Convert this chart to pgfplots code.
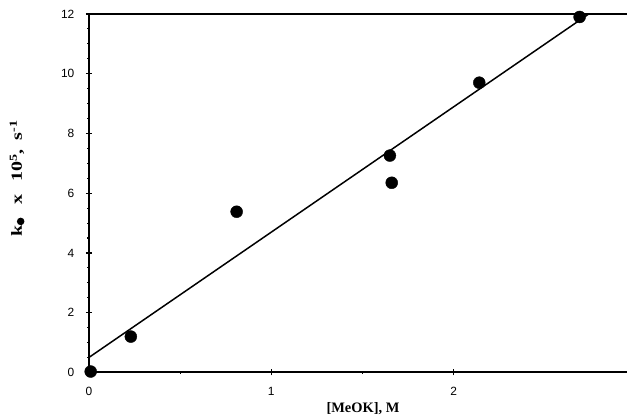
\documentclass[border=0pt]{standalone}
\usepackage{fontspec}
\setmainfont{Liberation Serif}
\setsansfont{Liberation Sans}
\newfontfamily\ylabfont{Liberation Serif Bold}[FakeStretch=1.3]
\usepackage{pgfplots}
\pgfplotsset{compat=1.18}
\newcommand{\blob}{\raisebox{-2.5bp}{\tikz\fill[black] (0,0) circle (3.8bp);}}
\begin{document}
\begin{tikzpicture}
\begin{axis}[
  scale only axis,
  width=539bp, height=359bp,
  xmin=0, xmax=2.95, ymin=0, ymax=12,
  axis x line*=bottom, axis y line*=left,
  axis line style={line width=1.9pt},
  xtick={0,1,2}, ytick={0,2,4,6,8,10,12},
  minor x tick num=1, minor y tick num=3,
  tick align=center,
  major tick length=6bp, minor tick length=3bp,
  tick style={line width=1.1pt, black},
  /pgf/number format/assume math mode=true,
  ticklabel style={font=\sffamily\fontsize{12}{13}\selectfont},
  yticklabel style={xshift=-8bp},
  xticklabel style={yshift=-8bp},
  xlabel={\textbf{[MeOK], M}},
  xlabel style={font=\fontsize{14.5}{16}\selectfont, at={(rel axis cs:0.5,0)}, anchor=base, yshift=-40bp, xshift=5bp},
  ylabel={\ylabfont k\blob\hspace{13bp}x\hspace{13bp}10\textsuperscript{5},\hspace{9bp}s\textsuperscript{-1}},
  ylabel style={font=\fontsize{15.5}{17}\selectfont, at={(rel axis cs:0,0.5)}, anchor=base, yshift=67bp, xshift=15bp},
  clip=false,
]
\addplot[only marks, mark=*, mark size=6bp, black] coordinates {
 (0.01,0.03) (0.23,1.20) (0.81,5.38) (1.65,7.26) (1.66,6.35) (2.14,9.70) (2.69,11.9)
};
\addplot[black, line width=1.5pt] coordinates {(0,0.5) (2.74,12)};
\draw[line width=1.9pt] (rel axis cs:0,1) -- (rel axis cs:1,1);
\path (rel axis cs:0,0) ++(-89bp,-44bp);
\path (rel axis cs:1,1) ++(0,14bp);
\end{axis}
\end{tikzpicture}
\end{document}
